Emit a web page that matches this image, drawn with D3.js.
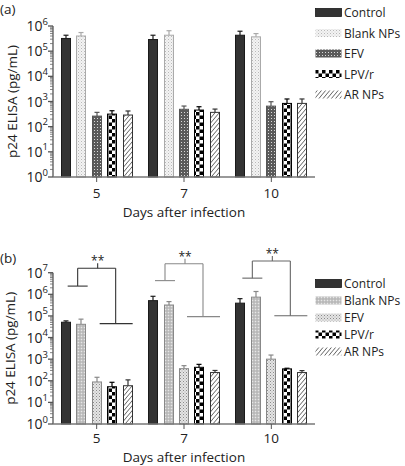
<!DOCTYPE html>
<html><head><meta charset="utf-8">
<script src="https://cdn.jsdelivr.net/npm/d3@7"></script>
<style>
html,body{margin:0;padding:0;background:#fff;}
svg{display:block;font-family:"Open Sans",sans-serif;}
</style></head>
<body>
<svg id="c" width="405" height="466"></svg>
<script>
const days = ["5", "7", "10"];
const series = ["Control", "Blank NPs", "EFV", "LPV/r", "AR NPs"];
// Panel (a) means and upper error (value at top of error bar)
const aControl = [3.2e5, 2.9e5, 4.3e5];
const aBlank   = [4.0e5, 4.3e5, 3.7e5];
const aEFV     = [263, 490, 655];
const aLPV     = [316, 457, 840];
const aAR      = [290, 370, 840];
const aControlErr = [4.3e5, 4.3e5, 6.2e5];
const aBlankErr   = [5.5e5, 6.5e5, 5.0e5];
const aEFVErr     = [370, 660, 980];
const aLPVErr     = [430, 620, 1260];
const aARErr      = [420, 500, 1260];
// Panel (b)
const bControl = [5.1e4, 5.1e5, 3.9e5];
const bBlank   = [4.1e4, 3.2e5, 7.4e5];
const bEFV     = [88, 363, 1000];
const bLPV     = [53, 420, 355];
const bAR      = [59, 240, 240];
const bControlErr = [5.9e4, 8.1e5, 6.3e5];
const bBlankErr   = [7.1e4, 4.6e5, 1.35e6];
const bEFVErr     = [145, 500, 1550];
const bLPVErr     = [85, 575, 380];
const bARErr      = [110, 300, 295];
// significance brackets in panel (b): left level, right level, top level
const sigLabel = ["**", "**", "**"];
const sigLeft  = [2.4e6, 4.3e6, 5.6e6];
const sigRight = [4.4e4, 9.3e4, 1.02e5];
const sigTop   = [1.6e7, 2.6e7, 3.5e7];
const yTicksA = [1, 10, 100, 1e3, 1e4, 1e5, 1e6];
const yTicksB = [1, 10, 100, 1e3, 1e4, 1e5, 1e6, 1e7];

const svg = d3.select("#c");
const defs = svg.append("defs");

function pat(id, w, h, draw, tr) {
  const p = defs.append("pattern").attr("id", id).attr("patternUnits", "userSpaceOnUse")
    .attr("width", w).attr("height", h);
  if (tr) p.attr("patternTransform", tr);
  draw(p);
}
pat("blankA", 3, 3, p => {
  p.append("rect").attr("width", 3).attr("height", 3).attr("fill", "#f3f3f3");
  p.append("rect").attr("width", 1).attr("height", 1).attr("fill", "#b8b8b8");
  p.append("rect").attr("x", 1.5).attr("y", 1.5).attr("width", 1).attr("height", 1).attr("fill", "#cfcfcf");
});
pat("efvA", 3, 3, p => {
  p.append("rect").attr("width", 3).attr("height", 3).attr("fill", "#5a5a5a");
  p.append("rect").attr("x", 1).attr("y", 1).attr("width", 1).attr("height", 1).attr("fill", "#dadada");
});
pat("blankB", 3, 3, p => {
  p.append("rect").attr("width", 3).attr("height", 3).attr("fill", "#c4c4c4");
  p.append("rect").attr("width", 1).attr("height", 1).attr("fill", "#e6e6e6");
  p.append("rect").attr("x", 1.5).attr("y", 1.5).attr("width", 1).attr("height", 1).attr("fill", "#999");
});
pat("efvB", 3, 3, p => {
  p.append("rect").attr("width", 3).attr("height", 3).attr("fill", "#e4e4e4");
  p.append("rect").attr("width", 1).attr("height", 1).attr("fill", "#8a8a8a");
  p.append("rect").attr("x", 1.5).attr("y", 1.5).attr("width", 1).attr("height", 1).attr("fill", "#a8a8a8");
});
pat("lpv", 7, 7, p => {
  p.append("rect").attr("width", 7).attr("height", 7).attr("fill", "#fff");
  p.append("rect").attr("width", 3.5).attr("height", 3.5).attr("fill", "#000");
  p.append("rect").attr("x", 3.5).attr("y", 3.5).attr("width", 3.5).attr("height", 3.5).attr("fill", "#000");
});
pat("ar", 3.2, 3.2, p => {
  p.append("rect").attr("width", 3.2).attr("height", 3.2).attr("fill", "#fff");
  p.append("line").attr("x1", 0).attr("y1", 0).attr("x2", 0).attr("y2", 3.2).attr("stroke", "#222").attr("stroke-width", 1.1);
}, "rotate(40)");

const stylesA = [
  {fill: "#333", stroke: "#1a1a1a"},
  {fill: "url(#blankA)", stroke: "#aaa"},
  {fill: "url(#efvA)", stroke: "#555"},
  {fill: "url(#lpv)", stroke: "#000"},
  {fill: "url(#ar)", stroke: "#333"}
];
const stylesB = [
  {fill: "#333", stroke: "#1a1a1a"},
  {fill: "url(#blankB)", stroke: "#888"},
  {fill: "url(#efvB)", stroke: "#888"},
  {fill: "url(#lpv)", stroke: "#000"},
  {fill: "url(#ar)", stroke: "#333"}
];

const x0 = d3.scaleBand().domain(days).range([53, 315]).padding(0);
const x1 = d3.scaleBand().domain(series).range([0, x0.bandwidth()]).paddingInner(0.35).paddingOuter(0.5);

function panel(cfg) {
  const g = svg.append("g");
  const y = d3.scaleLog().domain(cfg.domain).range(cfg.range);
  const vals = cfg.vals, errs = cfg.errs, st = cfg.styles;
  // bars
  series.forEach((s, si) => {
    days.forEach((d, di) => {
      const bx = Math.round(x0(d) + x1(s)), bw = Math.round(x1.bandwidth());
      const v = vals[si][di], e = errs[si][di];
      const cx = bx + bw / 2;
      g.append("line").attr("x1", cx).attr("x2", cx).attr("y1", y(v)).attr("y2", y(e))
        .attr("stroke", st[si].stroke).attr("stroke-width", 1.2);
      g.append("line").attr("x1", cx - 2.5).attr("x2", cx + 2.5).attr("y1", y(e)).attr("y2", y(e))
        .attr("stroke", st[si].stroke).attr("stroke-width", 1.2);
      g.append("rect").attr("x", bx + 0.5).attr("y", y(v)).attr("width", bw - 1)
        .attr("height", y(1) - y(v)).attr("fill", st[si].fill)
        .attr("stroke", st[si].stroke).attr("stroke-width", 1);
    });
  });
  // y axis with minor ticks
  const ax = g.append("g").attr("transform", "translate(53,0)");
  ax.append("line").attr("x1", 0).attr("x2", 0).attr("y1", y(cfg.domain[1])).attr("y2", y(1))
    .attr("stroke", "#555").attr("stroke-width", 1.3);
  const decs = cfg.ticks;
  decs.forEach((t, i) => {
    ax.append("line").attr("x1", -5).attr("x2", 0).attr("y1", y(t)).attr("y2", y(t)).attr("stroke", "#555").attr("stroke-width", 1.3);
    if (i < decs.length - 1) {
      for (let k = 2; k <= 9; k++) {
        ax.append("line").attr("x1", -3).attr("x2", 0).attr("y1", y(t * k)).attr("y2", y(t * k)).attr("stroke", "#666").attr("stroke-width", 0.8);
      }
    }
    const tx = ax.append("text").attr("x", -5).attr("y", y(t) + 5).attr("text-anchor", "end")
      .attr("font-size", 14).attr("fill", "#222");
    tx.append("tspan").text("10");
    tx.append("tspan").attr("font-size", 9.5).attr("dy", -6.5).text(Math.round(Math.log10(t)));
  });
  // x axis
  const xa = g.append("g");
  xa.append("line").attr("x1", 53).attr("x2", 315).attr("y1", y(1)).attr("y2", y(1)).attr("stroke", "#777").attr("stroke-width", 1.3);
  days.forEach(d => {
    const cx = x0(d) + x0.bandwidth() / 2;
    xa.append("line").attr("x1", cx).attr("x2", cx).attr("y1", y(1)).attr("y2", y(1) + 5).attr("stroke", "#555");
    xa.append("text").attr("x", cx).attr("y", y(1) + cfg.xtickDy).attr("text-anchor", "middle").attr("font-size", 13.5).attr("fill", "#222").text(d);
  });
  g.append("text").attr("x", 184).attr("y", y(1) + cfg.xtitleDy).attr("text-anchor", "middle")
    .attr("font-size", 13.5).attr("fill", "#222").text("Days after infection");
  g.append("text").attr("transform", `translate(${cfg.ytitleX},${(y(1) + y(cfg.domain[1])) / 2}) rotate(-90)`)
    .attr("text-anchor", "middle").attr("font-size", 13.5).attr("fill", "#222").text("p24 ELISA (pg/mL)");
  g.append("text").attr("x", 0).attr("y", cfg.labelY).attr("font-size", 13.5).attr("fill", "#222").text(cfg.label);
  // legend
  series.forEach((s, si) => {
    const ly = cfg.legY + si * cfg.legStep;
    g.append("rect").attr("x", 315.5).attr("y", ly - 4).attr("width", 26).attr("height", 8)
      .attr("fill", st[si].fill).attr("stroke", si === 0 ? "#1a1a1a" : "none").attr("stroke-width", 0.8);
    g.append("text").attr("x", 344).attr("y", ly + 4.5).attr("font-size", 12).attr("fill", "#222").text(s);
  });
  return y;
}

panel({
  domain: [1, 1e6], range: [177, 26], ticks: yTicksA,
  vals: [aControl, aBlank, aEFV, aLPV, aAR], errs: [aControlErr, aBlankErr, aEFVErr, aLPVErr, aARErr],
  styles: stylesA, xtickDy: 21, xtitleDy: 40, ytitleX: 17, label: "(a)", labelY: 14, legY: 12.5, legStep: 20.5
});
const yb = panel({
  domain: [1, 1e7], range: [424, 272.7], ticks: yTicksB,
  vals: [bControl, bBlank, bEFV, bLPV, bAR], errs: [bControlErr, bBlankErr, bEFVErr, bLPVErr, bARErr],
  styles: stylesB, xtickDy: 19, xtitleDy: 38, ytitleX: 15, label: "(b)", labelY: 263, legY: 283.5, legStep: 17
});

// significance brackets
const sigColor = ["#333", "#888", "#666"];
days.forEach((d, i) => {
  const cx = x0(d) + x0.bandwidth() / 2;
  const g = svg.append("g").attr("stroke", sigColor[i]).attr("stroke-width", 1.1).attr("fill", "none");
  const lx = cx - 19, rx = cx + 19, mx = (lx + rx) / 2 + 1;
  const yt = yb(sigTop[i]), yl = yb(sigLeft[i]), yr = yb(sigRight[i]);
  g.append("line").attr("x1", lx).attr("x2", rx).attr("y1", yt).attr("y2", yt);
  g.append("line").attr("x1", lx).attr("x2", lx).attr("y1", yt).attr("y2", yl);
  g.append("line").attr("x1", rx).attr("x2", rx).attr("y1", yt).attr("y2", yr);
  g.append("line").attr("x1", cx - 29).attr("x2", cx - 9).attr("y1", yl).attr("y2", yl);
  g.append("line").attr("x1", cx + 3).attr("x2", cx + 36).attr("y1", yr).attr("y2", yr);
  g.append("line").attr("x1", mx).attr("x2", mx).attr("y1", yt).attr("y2", yt - 5);
  svg.append("text").attr("x", mx).attr("y", yt - 3).attr("text-anchor", "middle")
    .attr("font-size", 12).attr("fill", "#222").text(sigLabel[i]);
});
</script>
</body></html>
